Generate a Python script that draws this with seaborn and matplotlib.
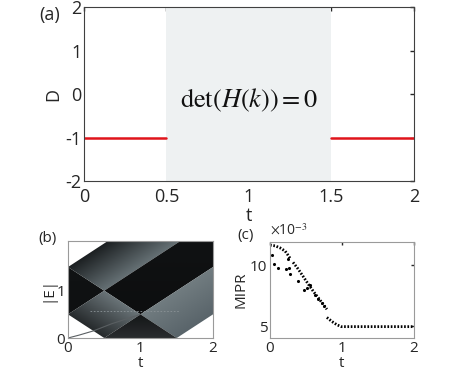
import numpy as np
import pandas as pd
import seaborn as sns
import matplotlib.pyplot as plt
from matplotlib.patches import Polygon
from matplotlib.colors import LinearSegmentedColormap

sns.set_theme(style="white", context="paper")
plt.rcParams["font.family"] = ["Open Sans", "DejaVu Sans"]
plt.rcParams["mathtext.fontset"] = "stix"

# --------------------------
# (a) indicator D
# --------------------------
t_left = [0.0, 0.5]
t_right = [1.5, 2.0]
d_left = [-1, -1]
d_right = [-1, -1]
gap_t = [0.5, 1.5]

# --------------------------
# (b) |E| spectrum, regions (t, |E|)
# --------------------------
reg_black_left = [(0, 0.5), (0, 1.5), (0.5, 1.0)]
reg_upper = [(0, 1.5), (0.55, 2.05), (1.55, 2.05), (0.5, 1.0)]
reg_black_band = [(0.5, 1.0), (1.55, 2.05), (2.0, 2.05), (2.0, 1.5), (1.0, 0.5)]
reg_right = [(1.0, 0.5), (2.0, 1.5), (2.0, 0.5), (1.5, 0.0)]
reg_lower = [(0, 0.5), (0.5, 1.0), (1.0, 0.5), (0.5, 0.0)]
reg_bottom = [(0.5, 0.0), (1.0, 0.5), (1.5, 0.0)]
edge_t = [0.0, 0.15, 0.35, 0.6, 1.0]
edge_E = [0.0, 0.06, 0.15, 0.3, 0.5]
flat_t = [0.3, 1.55]
flat_E = [0.57, 0.57]

# --------------------------
# (c) MIPR (x 1e-3)
# --------------------------
b1_t = [0.0, 0.07, 0.14, 0.21, 0.25, 0.28]
b1_v = [11.64, 11.59, 11.42, 11.16, 10.83, 10.56]
b2_t = [0.32, 0.39, 0.46, 0.53, 0.60, 0.67, 0.74, 0.79]
b2_v = [10.24, 9.70, 9.09, 8.47, 7.88, 7.34, 6.80, 6.40]
b3_t = [0.79, 0.86, 0.93, 0.99, 2.0]
b3_v = [5.73, 5.40, 5.13, 4.98, 4.98]
sc_t = [0.03, 0.05, 0.116, 0.22, 0.245, 0.28, 0.27, 0.39, 0.47, 0.51, 0.56, 0.62, 0.67, 0.72, 0.75]
sc_v = [10.83, 10.08, 9.81, 9.70, 10.50, 9.27, 9.80, 8.68, 8.00, 8.10, 8.40, 7.60, 7.20, 6.94, 6.67]

fig = plt.figure(figsize=(4.57, 3.87), dpi=100)
ax_a = fig.add_axes([0.1838, 0.5323, 0.722, 0.4496])
ax_b = fig.add_axes([0.1488, 0.1266, 0.3173, 0.2506])
ax_c = fig.add_axes([0.5908, 0.1266, 0.3151, 0.248])

# ---- (a)
ax_a.axvspan(gap_t[0], gap_t[1], color="#eef1f2", lw=0)
df_a = pd.DataFrame({"t": t_left + t_right, "D": d_left + d_right,
                     "seg": ["l", "l", "r", "r"]})
sns.lineplot(data=df_a, x="t", y="D", units="seg", estimator=None,
             color="#e0141b", lw=1.8, ax=ax_a)
ax_a.text(1.0, -0.15, r"$\mathrm{det}\left(H\left(k\right)\right)=0$",
          ha="center", va="center", fontsize=19, color="#111111")
ax_a.set_xlim(0, 2)
ax_a.set_ylim(-2, 2)
ax_a.set_xticks([0, 0.5, 1, 1.5, 2])
ax_a.set_xticklabels(["0", "0.5", "1", "1.5", "2"])
ax_a.set_yticks([-2, -1, 0, 1, 2])
ax_a.set_yticklabels(["-2", "-1", "0", "1", "2"])
ax_a.set_xlabel("t", fontsize=13, labelpad=1)
ax_a.set_ylabel("D", fontsize=13, labelpad=2)
ax_a.tick_params(labelsize=13, direction="in", length=3, top=True, right=True,
                 pad=2, colors="#262626")
ax_a.tick_params(axis="x", pad=5)
for s in ax_a.spines.values():
    s.set_color("#404040")
    s.set_linewidth(0.8)
fig.text(0.085, 0.96, "(a)", fontsize=13, color="#262626", va="center")

# ---- (b)
tt, ee = np.meshgrid(np.linspace(0, 2, 300), np.linspace(0, 2.05, 300))


def shade(ax, verts, field, lo, hi, c_lo, c_hi):
    patch = Polygon(verts, closed=True, facecolor="none", edgecolor="none")
    ax.add_patch(patch)
    cmap = LinearSegmentedColormap.from_list("g", [c_lo, c_hi])
    im = ax.imshow(field, extent=[0, 2, 0, 2.05], origin="lower", cmap=cmap,
                   vmin=lo, vmax=hi, aspect="auto", interpolation="bilinear")
    im.set_clip_path(patch)


shade(ax_b, reg_black_left, ee, 0, 2, "#0d0f10", "#121415")
shade(ax_b, reg_upper, ee - tt, 0.5, 1.5, "#667175", "#1c2022")
shade(ax_b, reg_black_band, ee, 0, 2, "#0c0d0e", "#101213")
shade(ax_b, reg_right, ee - tt, -1.5, -0.5, "#59646a", "#717c80")
shade(ax_b, reg_lower, ee + tt, 0.5, 1.5, "#262a2c", "#6a7478")
shade(ax_b, reg_bottom, ee, 0, 0.5, "#2a2d2f", "#141617")
sns.lineplot(x=edge_t, y=edge_E, color="#5a5f62", lw=0.8, ax=ax_b)
sns.lineplot(x=flat_t, y=flat_E, color="#8a9296", lw=0.6, ls=(0, (2, 2)), ax=ax_b)
ax_b.set_xlim(0, 2)
ax_b.set_ylim(0, 2.05)
ax_b.set_xticks([0, 1, 2])
ax_b.set_yticks([0, 1])
ax_b.set_xlabel("t", fontsize=11, labelpad=0)
ax_b.set_ylabel("|E|", fontsize=11, labelpad=1)
ax_b.tick_params(labelsize=11, direction="in", length=0, pad=2, colors="#262626")
for s in ax_b.spines.values():
    s.set_color("#9a9a9a")
    s.set_linewidth(0.8)
fig.text(0.085, 0.385, "(b)", fontsize=11, color="#262626", va="center")

# ---- (c)
df_c = pd.DataFrame({
    "t": b1_t + b2_t + b3_t,
    "MIPR": b1_v + b2_v + b3_v,
    "br": ["1"] * len(b1_t) + ["2"] * len(b2_t) + ["3"] * len(b3_t),
})
sns.lineplot(data=df_c, x="t", y="MIPR", units="br", estimator=None,
             color="black", lw=2.0, ls=(0, (0.6, 0.6)), ax=ax_c)
sns.scatterplot(x=sc_t, y=sc_v, color="black", s=5, linewidth=0, ax=ax_c)
ax_c.set_xlim(0, 2)
ax_c.set_ylim(4.05, 11.9)
ax_c.set_xticks([0, 1, 2])
ax_c.set_yticks([5, 10])
ax_c.set_yticklabels(["5", "10"])
ax_c.text(0.0, 1.04, r"$\times$10$^{-3}$", transform=ax_c.transAxes,
          fontsize=10, color="#262626", ha="left", va="bottom")
ax_c.set_xlabel("t", fontsize=11, labelpad=0)
ax_c.set_ylabel("MIPR", fontsize=11, labelpad=1)
ax_c.tick_params(labelsize=11, direction="in", length=2.5, top=True, right=True,
                 pad=2, colors="#262626")
for s in ax_c.spines.values():
    s.set_color("#9a9a9a")
    s.set_linewidth(0.8)
fig.text(0.52, 0.392, "(c)", fontsize=11, color="#262626", va="center")

fig.savefig("out.png", dpi=100)
